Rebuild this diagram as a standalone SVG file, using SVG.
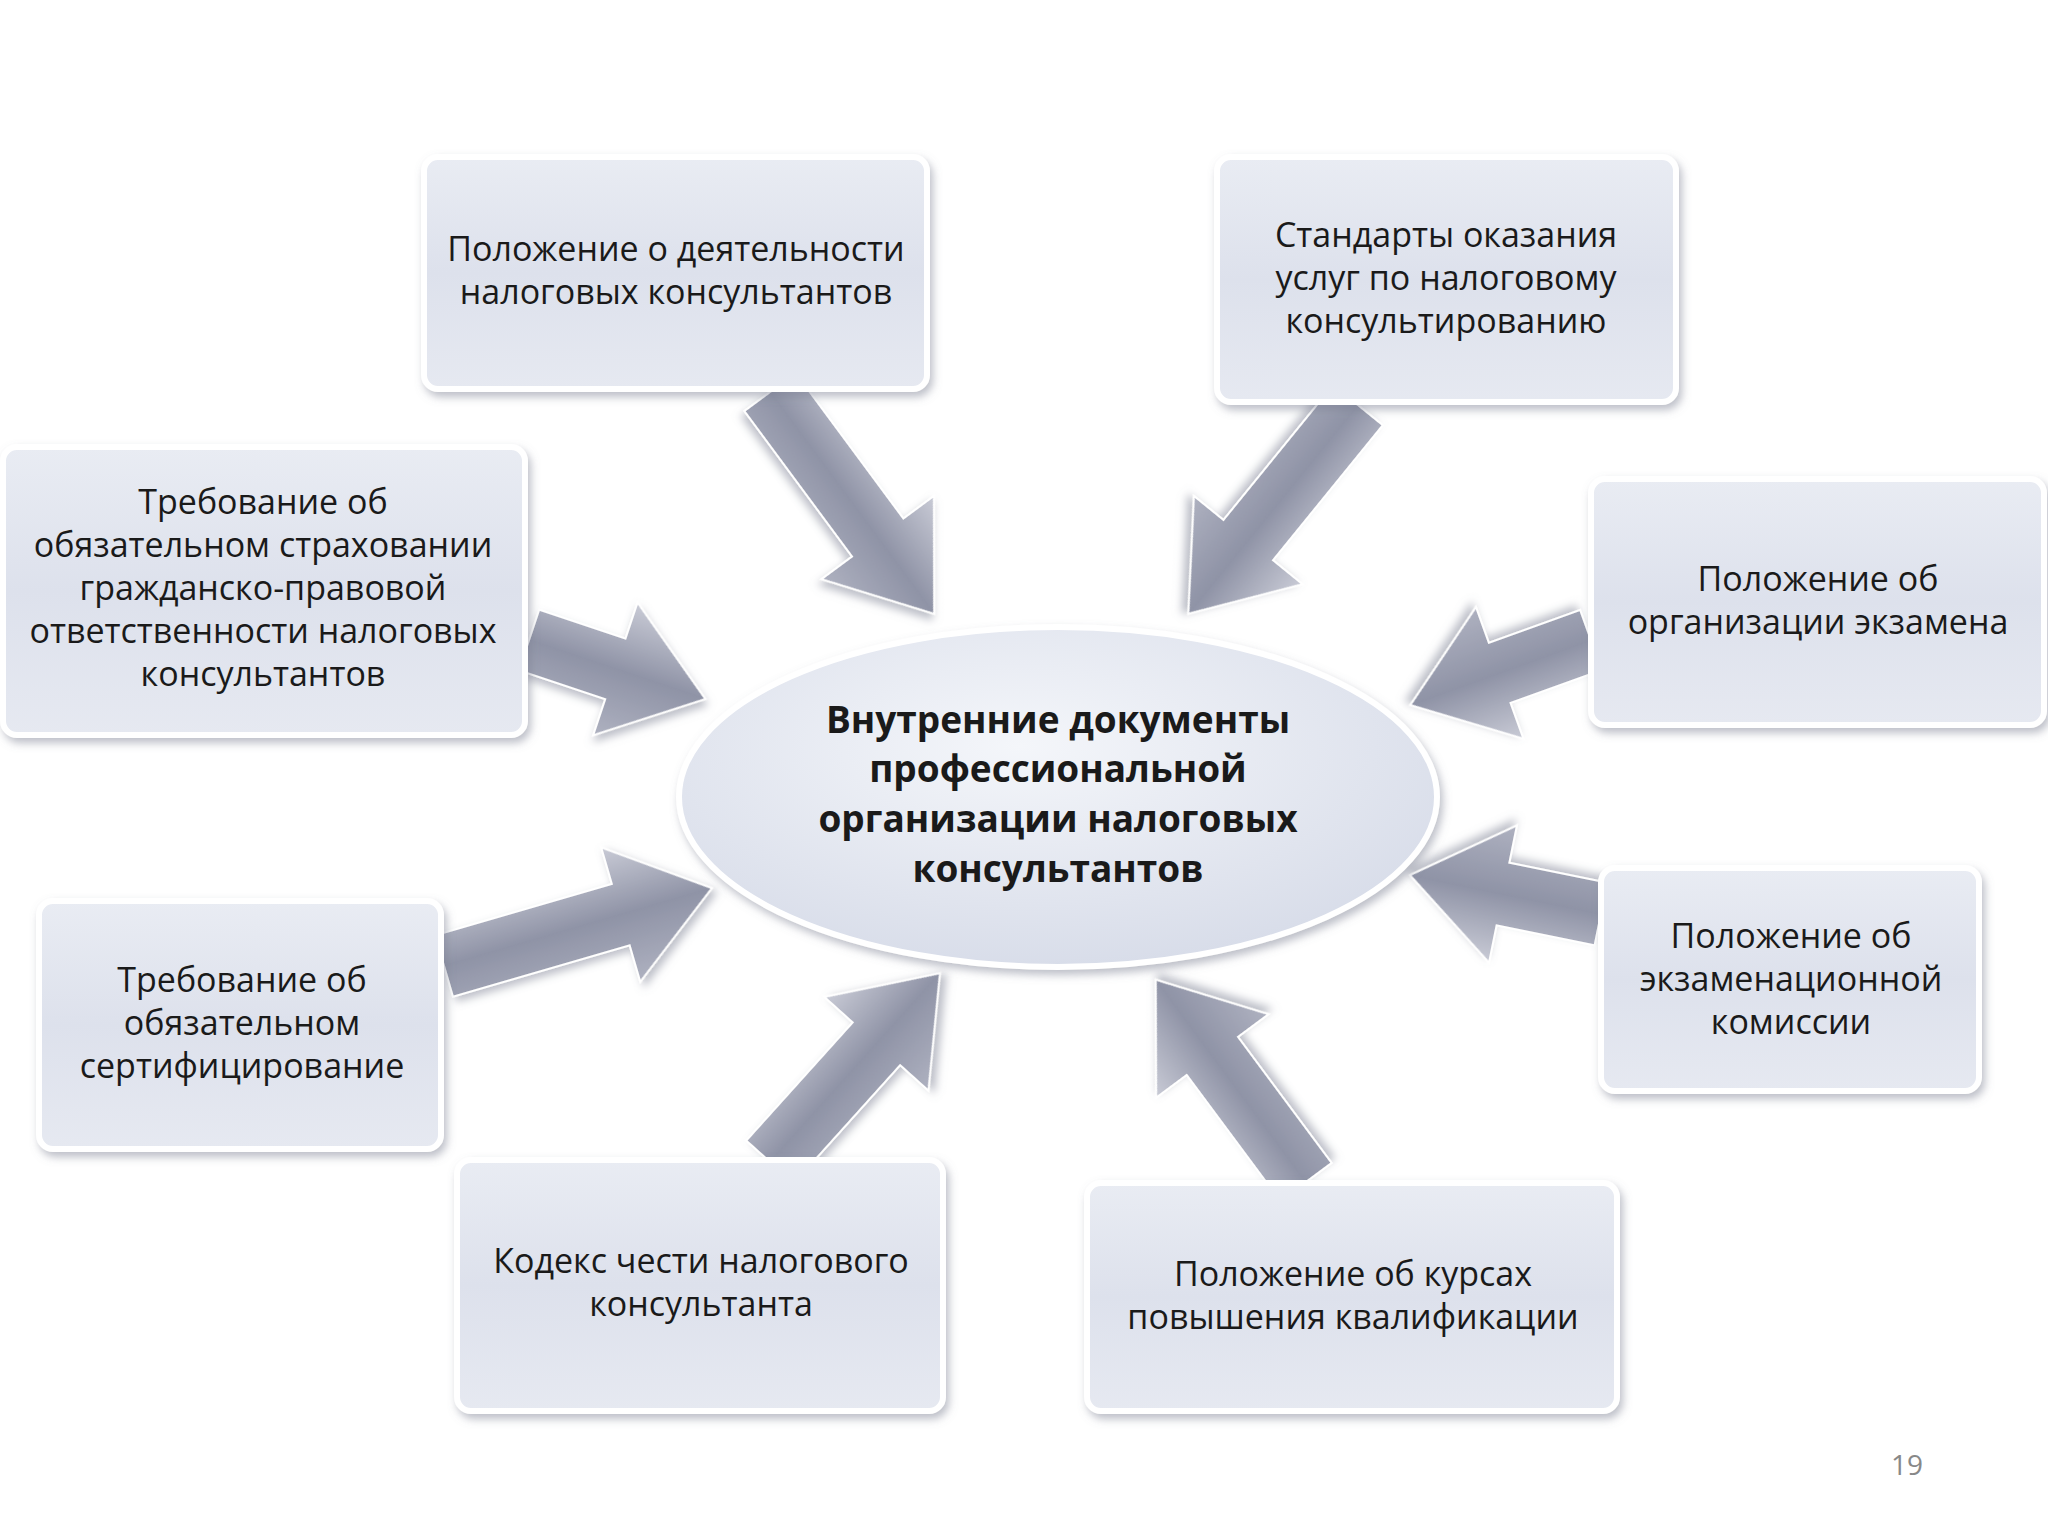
<svg xmlns="http://www.w3.org/2000/svg" width="2048" height="1536" viewBox="0 0 2048 1536">
<defs>
<linearGradient id="bg" x1="0" y1="0" x2="0" y2="1"><stop offset="0" stop-color="#e9ecf3"/><stop offset="0.5" stop-color="#dde1ec"/><stop offset="1" stop-color="#e6e9f1"/></linearGradient>
<linearGradient id="ag" x1="0" y1="0" x2="0" y2="1"><stop offset="0" stop-color="#c9cbd6"/><stop offset="0.5" stop-color="#8f93a6"/><stop offset="1" stop-color="#aeb1c0"/></linearGradient>
<radialGradient id="eg" cx="0.45" cy="0.35" r="0.7"><stop offset="0" stop-color="#f4f6fa"/><stop offset="1" stop-color="#d6dbe8"/></radialGradient>
<filter id="sh" x="-10%" y="-10%" width="120%" height="130%"><feDropShadow dx="3" dy="5" stdDeviation="4" flood-color="#7a7f90" flood-opacity="0.5"/></filter>
</defs>
<style>
.box{fill:url(#bg);stroke:#ffffff;stroke-width:6;filter:url(#sh)}
.t{font-family:"Open Sans","Noto Sans","DejaVu Sans",sans-serif;font-size:34px;fill:#1a1a1a;text-anchor:middle}
.c{font-family:"Open Sans","Noto Sans","DejaVu Sans",sans-serif;font-size:37px;font-weight:bold;fill:#1a1a1a;text-anchor:middle}
.arr{fill:url(#ag);stroke:#ffffff;stroke-width:2;filter:url(#sh)}
</style>
<rect width="2048" height="1536" fill="#ffffff"/>
<g id="connectors">
<path class="arr" transform="translate(770,392) rotate(53.5)" d="M0,-32 L181,-32 L181,-70 L276,0 L181,70 L181,32 L0,32 Z"/>
<path class="arr" transform="translate(1358,405) rotate(129.1)" d="M0,-32 L174,-32 L174,-70 L269,0 L174,70 L174,32 L0,32 Z"/>
<path class="arr" transform="translate(529,640) rotate(18.5)" d="M0,-32 L91,-32 L91,-70 L186,0 L91,70 L91,32 L0,32 Z"/>
<path class="arr" transform="translate(1591,640) rotate(160.2)" d="M0,-32 L97,-32 L97,-70 L192,0 L97,70 L97,32 L0,32 Z"/>
<path class="arr" transform="translate(444,966) rotate(-16.2)" d="M0,-32 L184,-32 L184,-70 L279,0 L184,70 L184,32 L0,32 Z"/>
<path class="arr" transform="translate(1601,914) rotate(-168.5)" d="M0,-32 L100,-32 L100,-70 L195,0 L100,70 L100,32 L0,32 Z"/>
<path class="arr" transform="translate(770,1162) rotate(-48)" d="M0,-32 L159,-32 L159,-70 L254,0 L159,70 L159,32 L0,32 Z"/>
<path class="arr" transform="translate(1306,1182) rotate(-126.6)" d="M0,-32 L157,-32 L157,-70 L252,0 L157,70 L157,32 L0,32 Z"/>
</g>
<g id="center">
<ellipse cx="1058" cy="797" rx="379" ry="170" fill="url(#eg)" stroke="#ffffff" stroke-width="6" filter="url(#sh)"/>
<text class="c" x="1058" y="733">Внутренние документы</text>
<text class="c" x="1058" y="782">профессиональной</text>
<text class="c" x="1058" y="832">организации налоговых</text>
<text class="c" x="1058" y="882">консультантов</text>
</g>
<g id="n1"><rect class="box" x="424" y="157" width="503" height="232" rx="14"/>
<text class="t" x="676" y="261">Положение о деятельности</text><text class="t" x="676" y="304">налоговых консультантов</text></g>
<g id="n2"><rect class="box" x="1217" y="157" width="459" height="245" rx="14"/>
<text class="t" x="1446" y="247">Стандарты оказания</text><text class="t" x="1446" y="290">услуг по налоговому</text><text class="t" x="1446" y="333">консультированию</text></g>
<g id="n3"><rect class="box" x="3" y="447" width="522" height="288" rx="14"/>
<text class="t" x="263" y="514">Требование об</text><text class="t" x="263" y="557">обязательном страховании</text><text class="t" x="263" y="600">гражданско-правовой</text><text class="t" x="263" y="643">ответственности налоговых</text><text class="t" x="263" y="686">консультантов</text></g>
<g id="n4"><rect class="box" x="1591" y="479" width="453" height="246" rx="14"/>
<text class="t" x="1818" y="591">Положение об</text><text class="t" x="1818" y="634">организации экзамена</text></g>
<g id="n5"><rect class="box" x="39" y="901" width="402" height="248" rx="14"/>
<text class="t" x="242" y="992">Требование об</text><text class="t" x="242" y="1035">обязательном</text><text class="t" x="242" y="1078">сертифицирование</text></g>
<g id="n6"><rect class="box" x="1601" y="868" width="378" height="223" rx="14"/>
<text class="t" x="1791" y="948">Положение об</text><text class="t" x="1791" y="991">экзаменационной</text><text class="t" x="1791" y="1034">комиссии</text></g>
<g id="n7"><rect class="box" x="457" y="1160" width="486" height="251" rx="14"/>
<text class="t" x="701" y="1273">Кодекс чести налогового</text><text class="t" x="701" y="1316">консультанта</text></g>
<g id="n8"><rect class="box" x="1087" y="1183" width="530" height="228" rx="14"/>
<text class="t" x="1353" y="1286">Положение об курсах</text><text class="t" x="1353" y="1329">повышения квалификации</text></g>
<text x="1907" y="1475" font-family="'Open Sans','Noto Sans',sans-serif" font-size="28" fill="#888888" text-anchor="middle">19</text>
</svg>
